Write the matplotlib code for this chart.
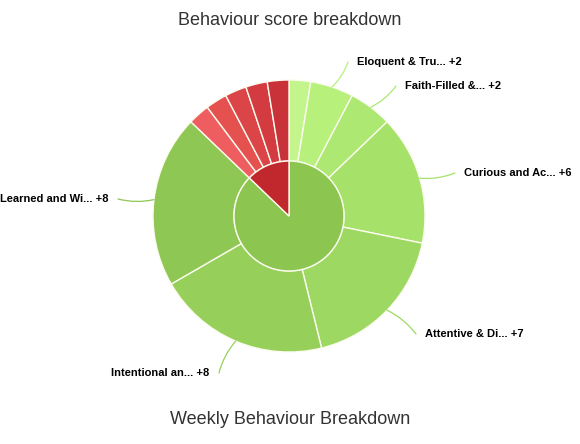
import numpy as np
import matplotlib
matplotlib.use('Agg')
from matplotlib import pyplot as plt

plt.rcParams['font.family'] = ['Liberation Sans', 'DejaVu Sans']

W, H = 580, 444
CX, CY = 289, 216          # pie centre, pixels from top-left
R_OUT, R_IN = 136, 55

# outer ring, clockwise from 12 o'clock
outer_names = ['', 'Eloquent & Tru...', 'Faith-Filled &...', 'Curious and Ac...',
               'Attentive & Di...', 'Intentional an...', 'Learned and Wi...',
               '', '', '', '', '']
outer_values = [1, 2, 2, 6, 7, 8, 8, 1, 1, 1, 1, 1]
outer_scores = ['+1', '+2', '+2', '+6', '+7', '+8', '+8', '-1', '-1', '-1', '-1', '-1']
outer_colors = ['#c3f58c', '#b8f07c', '#ade872', '#a6e26a', '#9dd962', '#96d05a',
                '#8ec753', '#ee5e60', '#e5514f', '#dc4547', '#d33b40', '#c93238']

# inner pie: positive vs negative
inner_values = [34, 5]
inner_colors = ['#8cc650', '#c0282e']

# label text placement (left/right edge x, centre y) in pixels
label_pos = {1: (357, 62, 'left'), 2: (405, 86, 'left'), 3: (464, 173, 'left'),
             4: (425, 334, 'left'), 5: (209, 373, 'right'), 6: (108, 199, 'right')}


def fy(y):
    return H - y


fig = plt.figure(figsize=(W / 100, H / 100), dpi=100)
ax = fig.add_axes([0, 0, 1, 1])
ax.set_xlim(0, W)
ax.set_ylim(0, H)
ax.axis('off')

ax.pie(outer_values, colors=outer_colors, radius=R_OUT, center=(CX, fy(CY)),
       startangle=90, counterclock=False,
       wedgeprops=dict(width=R_OUT - R_IN, edgecolor='#fbfbee', linewidth=1))
ax.pie(inner_values, colors=inner_colors, radius=R_IN, center=(CX, fy(CY)),
       startangle=90, counterclock=False,
       wedgeprops=dict(edgecolor='#fbfbee', linewidth=1))
ax.set_xlim(0, W)
ax.set_ylim(0, H)
ax.set_aspect('auto')

# data labels with soft connectors
total = sum(outer_values)
cum = np.cumsum([0] + outer_values)
for i, (lx, ly, side) in label_pos.items():
    mid = np.radians((cum[i] + outer_values[i] / 2) / total * 360)
    ex = CX + R_OUT * np.sin(mid)
    ey = CY - R_OUT * np.cos(mid)
    sx = lx - 9 if side == 'left' else lx + 10
    rad = -0.12 if side == 'left' else 0.12
    if ey > CY:
        rad = -rad
    ax.annotate('', xy=(ex, fy(ey)), xytext=(sx, fy(ly)),
                arrowprops=dict(arrowstyle='-', color=outer_colors[i], lw=0.9,
                                shrinkA=0, shrinkB=0,
                                connectionstyle='arc3,rad=%s' % rad))
    ax.text(lx, fy(ly), '%s %s' % (outer_names[i], outer_scores[i]),
            ha=side, va='center', fontsize=8, fontweight='bold', color='#000000')

ax.text(W / 2, fy(21), 'Behaviour score breakdown', ha='center', va='center',
        fontsize=13, color='#333333')
ax.text(W / 2, fy(419), 'Weekly Behaviour Breakdown', ha='center', va='center',
        fontsize=13, color='#333333')

fig.savefig('out.png', dpi=100, facecolor='white')
